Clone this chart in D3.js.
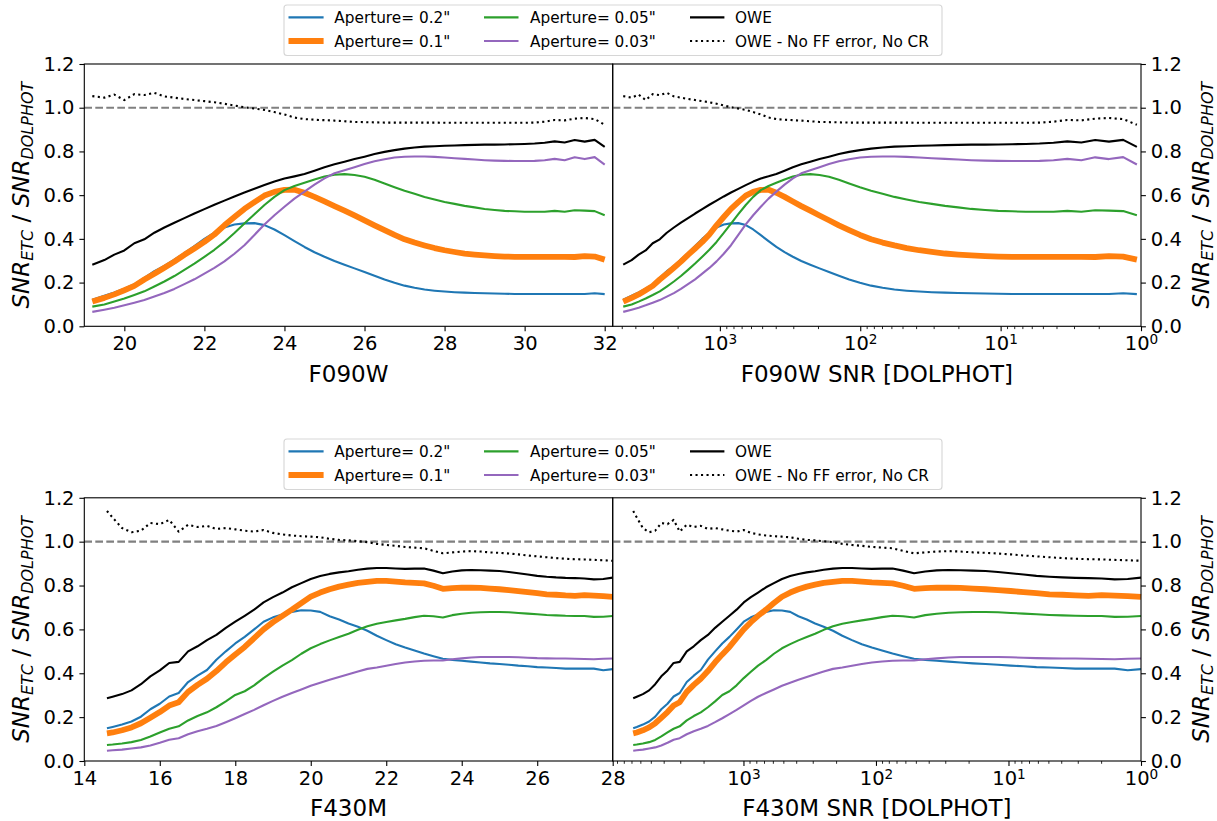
<!DOCTYPE html>
<html>
<head>
<meta charset="utf-8">
<script src="https://cdn.jsdelivr.net/npm/d3@7"></script>
<style>
  body { margin: 0; background: #fff; }
  svg { display: block; }
  text { font-family: 'DejaVu Sans', sans-serif; fill: #000; }
</style>
</head>
<body>
<svg id="fig" width="1217" height="821"></svg>
<script>
// ---------------- F090W ----------------
const f090wMag = [19.2, 19.5, 19.75, 20.0, 20.25, 20.5, 20.75, 21.0, 21.25, 21.5, 21.75, 22.0, 22.25, 22.5, 22.75, 23.0, 23.25, 23.5, 23.75, 24.0, 24.25, 24.5, 24.75, 25.0, 25.25, 25.5, 25.75, 26.0, 26.25, 26.5, 26.75, 27.0, 27.25, 27.5, 27.75, 28.0, 28.25, 28.5, 28.75, 29.0, 29.25, 29.5, 29.75, 30.0, 30.25, 30.5, 30.75, 31.0, 31.25, 31.5, 31.75, 32.0];
const f090wSnr = [4880, 4253, 3790, 3378, 3009, 2680, 2388, 2126, 1894, 1686, 1501, 1335, 1188, 1056, 938, 833, 739, 654, 579, 511, 450, 396, 346, 302, 263, 227, 195, 167, 142, 120, 100.5, 83.7, 69.3, 57.1, 46.7, 38.0, 30.9, 24.9, 20.1, 16.2, 12.9, 10.4, 8.29, 6.61, 5.28, 4.20, 3.35, 2.66, 2.12, 1.69, 1.34, 1.07];
const f090wAp020 = [0.122, 0.14, 0.155, 0.172, 0.192, 0.222, 0.252, 0.276, 0.305, 0.335, 0.367, 0.40, 0.428, 0.452, 0.466, 0.471, 0.472, 0.463, 0.443, 0.417, 0.39, 0.363, 0.339, 0.318, 0.299, 0.282, 0.265, 0.248, 0.231, 0.214, 0.199, 0.186, 0.176, 0.168, 0.163, 0.159, 0.156, 0.154, 0.152, 0.151, 0.15, 0.149, 0.148, 0.148, 0.148, 0.148, 0.148, 0.148, 0.148, 0.148, 0.151, 0.147];
const f090wAp010 = [0.113, 0.13, 0.146, 0.165, 0.185, 0.214, 0.24, 0.268, 0.296, 0.327, 0.356, 0.386, 0.42, 0.462, 0.50, 0.537, 0.568, 0.598, 0.615, 0.624, 0.625, 0.611, 0.592, 0.571, 0.55, 0.529, 0.507, 0.485, 0.462, 0.44, 0.418, 0.398, 0.383, 0.37, 0.358, 0.348, 0.34, 0.333, 0.328, 0.324, 0.321, 0.319, 0.318, 0.318, 0.318, 0.318, 0.318, 0.318, 0.317, 0.321, 0.319, 0.305];
const f090wAp005 = [0.09, 0.10, 0.113, 0.127, 0.143, 0.16, 0.182, 0.205, 0.23, 0.258, 0.287, 0.318, 0.35, 0.386, 0.427, 0.47, 0.513, 0.555, 0.592, 0.623, 0.642, 0.657, 0.672, 0.685, 0.693, 0.696, 0.692, 0.684, 0.67, 0.653, 0.636, 0.62, 0.606, 0.592, 0.58, 0.569, 0.56, 0.551, 0.544, 0.537, 0.532, 0.528, 0.526, 0.524, 0.524, 0.524, 0.528, 0.524, 0.531, 0.529, 0.527, 0.508];
const f090wAp003 = [0.066, 0.076, 0.085, 0.096, 0.108, 0.12, 0.136, 0.152, 0.171, 0.193, 0.215, 0.241, 0.267, 0.297, 0.332, 0.371, 0.418, 0.466, 0.508, 0.547, 0.584, 0.616, 0.648, 0.677, 0.70, 0.714, 0.728, 0.742, 0.755, 0.764, 0.772, 0.776, 0.777, 0.777, 0.775, 0.772, 0.769, 0.766, 0.763, 0.76, 0.758, 0.757, 0.756, 0.756, 0.757, 0.76, 0.766, 0.76, 0.773, 0.765, 0.774, 0.74];
const f090wOwe = [0.282, 0.303, 0.328, 0.347, 0.38, 0.398, 0.428, 0.452, 0.474, 0.495, 0.516, 0.536, 0.556, 0.575, 0.594, 0.612, 0.629, 0.646, 0.662, 0.676, 0.686, 0.697, 0.712, 0.728, 0.741, 0.753, 0.765, 0.776, 0.788, 0.798, 0.806, 0.813, 0.818, 0.822, 0.824, 0.826, 0.827, 0.829, 0.83, 0.831, 0.831, 0.832, 0.833, 0.834, 0.836, 0.84, 0.846, 0.841, 0.852, 0.845, 0.853, 0.821];
const f090wOweNoFF = [1.053, 1.046, 1.06, 1.035, 1.062, 1.058, 1.068, 1.052, 1.046, 1.04, 1.035, 1.03, 1.025, 1.018, 1.01, 1.002, 0.996, 0.99, 0.98, 0.969, 0.955, 0.948, 0.945, 0.943, 0.941, 0.938, 0.935, 0.934, 0.933, 0.932, 0.932, 0.932, 0.932, 0.932, 0.932, 0.931, 0.931, 0.931, 0.931, 0.931, 0.931, 0.931, 0.931, 0.931, 0.932, 0.936, 0.944, 0.942, 0.95, 0.953, 0.948, 0.922];

// ---------------- F430M ----------------
const f430mMag = [14.6, 14.75, 15.0, 15.25, 15.5, 15.75, 16.0, 16.25, 16.5, 16.75, 17.0, 17.25, 17.5, 17.75, 18.0, 18.25, 18.5, 18.75, 19.0, 19.25, 19.5, 19.75, 20.0, 20.25, 20.5, 20.75, 21.0, 21.25, 21.5, 21.75, 22.0, 22.25, 22.5, 22.75, 23.0, 23.25, 23.5, 23.75, 24.0, 24.25, 24.5, 24.75, 25.0, 25.25, 25.5, 25.75, 26.0, 26.25, 26.5, 26.75, 27.0, 27.25, 27.5, 27.75, 28.0];
const f430mSnr = [6792, 6383, 5741, 5152, 4634, 4169, 3741, 3365, 3027, 2679, 2371, 2099, 1854, 1637, 1445, 1276, 1127, 995, 879, 776, 676, 589, 512, 444, 385, 333, 288, 248, 211, 179.5, 151.7, 127.9, 107.4, 89.9, 75.0, 62.4, 51.6, 42.5, 34.8, 28.3, 23.0, 18.5, 14.9, 12.0, 9.62, 7.69, 6.15, 4.91, 3.92, 3.13, 2.49, 1.98, 1.58, 1.26, 1.00];
const f430mAp020 = [0.149, 0.155, 0.166, 0.18, 0.202, 0.236, 0.261, 0.294, 0.31, 0.36, 0.389, 0.415, 0.462, 0.50, 0.536, 0.566, 0.60, 0.635, 0.655, 0.668, 0.68, 0.687, 0.686, 0.68, 0.66, 0.645, 0.627, 0.612, 0.594, 0.571, 0.551, 0.532, 0.517, 0.504, 0.49, 0.478, 0.466, 0.461, 0.457, 0.453, 0.449, 0.445, 0.442, 0.439, 0.435, 0.432, 0.428, 0.426, 0.424, 0.421, 0.421, 0.421, 0.421, 0.414, 0.419];
const f430mAp010 = [0.126, 0.13, 0.14, 0.153, 0.172, 0.197, 0.223, 0.253, 0.268, 0.315, 0.347, 0.375, 0.41, 0.45, 0.486, 0.52, 0.56, 0.60, 0.633, 0.662, 0.69, 0.72, 0.749, 0.768, 0.783, 0.795, 0.804, 0.812, 0.817, 0.821, 0.821, 0.818, 0.814, 0.812, 0.81, 0.799, 0.785, 0.788, 0.79, 0.79, 0.789, 0.786, 0.783, 0.779, 0.775, 0.77, 0.765, 0.76, 0.758, 0.755, 0.753, 0.756, 0.754, 0.752, 0.748];
const f430mAp005 = [0.073, 0.075, 0.08, 0.086, 0.096, 0.112, 0.13, 0.147, 0.158, 0.185, 0.205, 0.222, 0.245, 0.272, 0.301, 0.318, 0.345, 0.378, 0.407, 0.435, 0.46, 0.489, 0.514, 0.533, 0.55, 0.565, 0.58, 0.598, 0.614, 0.626, 0.634, 0.641, 0.648, 0.656, 0.662, 0.66, 0.654, 0.665, 0.671, 0.676, 0.678, 0.679, 0.679, 0.678, 0.675, 0.672, 0.669, 0.666, 0.664, 0.662, 0.661, 0.661, 0.657, 0.658, 0.661];
const f430mAp003 = [0.047, 0.049, 0.052, 0.057, 0.062, 0.071, 0.083, 0.097, 0.104, 0.122, 0.136, 0.147, 0.16, 0.177, 0.195, 0.214, 0.233, 0.254, 0.274, 0.293, 0.31, 0.326, 0.343, 0.357, 0.37, 0.383, 0.396, 0.408, 0.42, 0.426, 0.434, 0.442, 0.449, 0.454, 0.457, 0.458, 0.458, 0.464, 0.468, 0.472, 0.474, 0.474, 0.474, 0.474, 0.473, 0.471, 0.469, 0.468, 0.467, 0.467, 0.466, 0.465, 0.464, 0.466, 0.467];
const f430mOwe = [0.286, 0.293, 0.305, 0.322, 0.35, 0.386, 0.413, 0.447, 0.452, 0.50, 0.523, 0.551, 0.575, 0.607, 0.635, 0.662, 0.69, 0.723, 0.747, 0.768, 0.792, 0.811, 0.83, 0.843, 0.853, 0.86, 0.865, 0.872, 0.877, 0.88, 0.88, 0.878, 0.876, 0.877, 0.878, 0.868, 0.856, 0.864, 0.869, 0.871, 0.87, 0.868, 0.866, 0.862, 0.856, 0.85, 0.844, 0.84, 0.837, 0.835, 0.834, 0.832, 0.828, 0.83, 0.836];
const f430mOweNoFF = [1.14, 1.11, 1.062, 1.043, 1.05, 1.085, 1.08, 1.099, 1.046, 1.077, 1.067, 1.072, 1.058, 1.062, 1.056, 1.05, 1.046, 1.053, 1.04, 1.033, 1.028, 1.025, 1.023, 1.02, 1.013, 1.008, 1.006, 1.002, 0.998, 0.99, 0.985, 0.981, 0.976, 0.973, 0.97, 0.958, 0.947, 0.951, 0.955, 0.957, 0.955, 0.951, 0.949, 0.946, 0.942, 0.937, 0.933, 0.929, 0.925, 0.922, 0.92, 0.919, 0.917, 0.915, 0.913];

// Axis ticks and labels
const yTicks = [0, 0.2, 0.4, 0.6, 0.8, 1.0, 1.2];
const f090wMagTicks = [20, 22, 24, 26, 28, 30, 32];
const f430mMagTicks = [14, 16, 18, 20, 22, 24, 26, 28];
const snrMajorTicks = [1000, 100, 10, 1];
const legendLabels = ['Aperture= 0.2"', 'Aperture= 0.1"', 'Aperture= 0.05"', 'Aperture= 0.03"', 'OWE', 'OWE - No FF error, No CR'];

// Line styles, in drawing / legend order
const styles = [
  { color: '#1f77b4', width: 2.1, dash: null },
  { color: '#ff7f0e', width: 5.8, dash: null },
  { color: '#2ca02c', width: 2.1, dash: null },
  { color: '#9467bd', width: 2.1, dash: null },
  { color: '#000000', width: 2.1, dash: null },
  { color: '#000000', width: 2.1, dash: '2.1 3.4' }
];

const rows = [
  {
    top: 64, bottom: 326.3, mag: f090wMag, snr: f090wSnr,
    series: [f090wAp020, f090wAp010, f090wAp005, f090wAp003, f090wOwe, f090wOweNoFF],
    magDomain: [19.0, 32.2], magTicks: f090wMagTicks, snrDomain: [5800, 1],
    name: 'F090W', legendTop: 5
  },
  {
    top: 497.8, bottom: 761, mag: f430mMag, snr: f430mSnr,
    series: [f430mAp020, f430mAp010, f430mAp005, f430mAp003, f430mOwe, f430mOweNoFF],
    magDomain: [14, 28], magTicks: f430mMagTicks, snrDomain: [9700, 1],
    name: 'F430M', legendTop: 439
  }
];

const X0 = 84.3, XM = 612.7, X1 = 1141;
const TICK = 4.9, PAD = 4.9, MINOR = 2.8;
const TICK_FS = 19.5, LABEL_FS = 23, LEGEND_FS = 15.3;

const svg = d3.select('#fig');
svg.append('rect').attr('width', 1217).attr('height', 821).attr('fill', '#fff');

function styleAxis(g) {
  g.select('.domain').remove();
  g.selectAll('.tick line').attr('stroke', '#000').attr('stroke-width', 1.1);
  g.selectAll('.tick text').attr('font-size', TICK_FS).attr('font-family', "'DejaVu Sans', sans-serif").attr('fill', '#000');
}

function yAxisLabel(x, yc) {
  const t = svg.append('text')
    .attr('transform', `translate(${x},${yc}) rotate(-90)`)
    .attr('text-anchor', 'middle')
    .attr('font-size', LABEL_FS);
  t.append('tspan').attr('font-style', 'italic').text('SNR');
  t.append('tspan').attr('font-style', 'italic').attr('font-size', 16).attr('dy', 4).text('ETC');
  t.append('tspan').attr('dy', -4).text(' / ');
  t.append('tspan').attr('font-style', 'italic').text('SNR');
  t.append('tspan').attr('font-style', 'italic').attr('font-size', 16).attr('dy', 4).text('DOLPHOT');
}

function drawPanel(row, x, xValues, g) {
  const y = d3.scaleLinear().domain([0, 1.2]).range([row.bottom, row.top]);
  // reference level at 1.0
  g.append('line')
    .attr('x1', x.range()[0]).attr('x2', x.range()[1])
    .attr('y1', y(1)).attr('y2', y(1))
    .attr('stroke', '#808080').attr('stroke-width', 2.1).attr('stroke-dasharray', '7.7 3.3');
  row.series.forEach((vals, i) => {
    const st = styles[i];
    const pts = vals.map((v, k) => [xValues[k], v]);
    const line = d3.line().x(d => x(d[0])).y(d => y(d[1]));
    g.append('path')
      .attr('d', line(pts))
      .attr('fill', 'none')
      .attr('stroke', st.color)
      .attr('stroke-width', st.width)
      .attr('stroke-linejoin', 'round')
      .attr('stroke-dasharray', st.dash);
  });
  return y;
}

function drawLegend(top) {
  const g = svg.append('g');
  g.append('rect')
    .attr('x', 284).attr('y', top).attr('width', 658).attr('height', 50.5)
    .attr('rx', 3).attr('fill', 'rgba(255,255,255,0.8)')
    .attr('stroke', 'rgba(204,204,204,0.8)').attr('stroke-width', 1.1);
  const cols = [[288.5, 323.6, 334.3], [484, 518.5, 530], [690, 724.4, 735]];
  const rowsY = [top + 12.4, top + 36];
  legendLabels.forEach((lab, i) => {
    const c = cols[Math.floor(i / 2)], ry = rowsY[i % 2], st = styles[i];
    g.append('line')
      .attr('x1', c[0]).attr('x2', c[1]).attr('y1', ry).attr('y2', ry)
      .attr('stroke', st.color).attr('stroke-width', st.width)
      .attr('stroke-dasharray', st.dash);
    g.append('text')
      .attr('x', c[2]).attr('y', ry + 5.6)
      .attr('font-size', LEGEND_FS)
      .text(lab);
  });
}

rows.forEach(row => {
  const h = row.bottom - row.top;

  // ---- left panel: magnitude ----
  const xMag = d3.scaleLinear().domain(row.magDomain).range([X0, XM]);
  const gL = svg.append('g');
  const yL = drawPanel(row, xMag, row.mag, gL);

  const axL = svg.append('g').attr('transform', `translate(${X0},0)`)
    .call(d3.axisLeft(yL).tickValues(yTicks).tickFormat(d3.format('.1f')).tickSizeInner(TICK).tickSizeOuter(0).tickPadding(PAD));
  styleAxis(axL);
  const axB = svg.append('g').attr('transform', `translate(0,${row.bottom})`)
    .call(d3.axisBottom(xMag).tickValues(row.magTicks).tickFormat(d3.format('d')).tickSizeInner(TICK).tickSizeOuter(0).tickPadding(PAD));
  styleAxis(axB);

  svg.append('rect').attr('x', X0).attr('y', row.top).attr('width', XM - X0).attr('height', h)
    .attr('fill', 'none').attr('stroke', '#000').attr('stroke-width', 1.1);

  svg.append('text').attr('x', (X0 + XM) / 2).attr('y', row.bottom + 55.4)
    .attr('text-anchor', 'middle').attr('font-size', LABEL_FS).text(row.name);
  yAxisLabel(29, (row.top + row.bottom) / 2);

  // ---- right panel: DOLPHOT SNR (log, reversed) ----
  const xSnr = d3.scaleLog().domain(row.snrDomain).range([XM, X1]);
  const gR = svg.append('g');
  const yR = drawPanel(row, xSnr, row.snr, gR);

  const axR = svg.append('g').attr('transform', `translate(${X1},0)`)
    .call(d3.axisRight(yR).tickValues(yTicks).tickFormat(d3.format('.1f')).tickSizeInner(TICK).tickSizeOuter(0).tickPadding(PAD));
  styleAxis(axR);

  const minor = [];
  for (let k = 0; k < 4; k++) {
    for (let j = 2; j <= 9; j++) {
      const v = j * Math.pow(10, k);
      if (v <= row.snrDomain[0] && v >= row.snrDomain[1]) minor.push(v);
    }
  }
  const axMinor = svg.append('g').attr('transform', `translate(0,${row.bottom})`)
    .call(d3.axisBottom(xSnr).tickValues(minor).tickFormat(() => '').tickSizeInner(MINOR).tickSizeOuter(0));
  axMinor.select('.domain').remove();
  axMinor.selectAll('.tick line').attr('stroke', '#000').attr('stroke-width', 0.85);

  const axSnr = svg.append('g').attr('transform', `translate(0,${row.bottom})`)
    .call(d3.axisBottom(xSnr).tickValues(snrMajorTicks).tickSizeInner(TICK).tickSizeOuter(0).tickPadding(PAD));
  styleAxis(axSnr);
  axSnr.selectAll('.tick text').each(function (d) {
    const t = d3.select(this);
    t.text(null);
    t.append('tspan').text('10');
    t.append('tspan').attr('dy', '-0.45em').attr('font-size', '0.7em').text(Math.round(Math.log10(d)));
  });

  svg.append('rect').attr('x', XM).attr('y', row.top).attr('width', X1 - XM).attr('height', h)
    .attr('fill', 'none').attr('stroke', '#000').attr('stroke-width', 1.1);

  svg.append('text').attr('x', (XM + X1) / 2).attr('y', row.bottom + 55.4)
    .attr('text-anchor', 'middle').attr('font-size', LABEL_FS).text(row.name + ' SNR [DOLPHOT]');
  yAxisLabel(1209, (row.top + row.bottom) / 2);

  drawLegend(row.legendTop);
});
</script>
</body>
</html>
